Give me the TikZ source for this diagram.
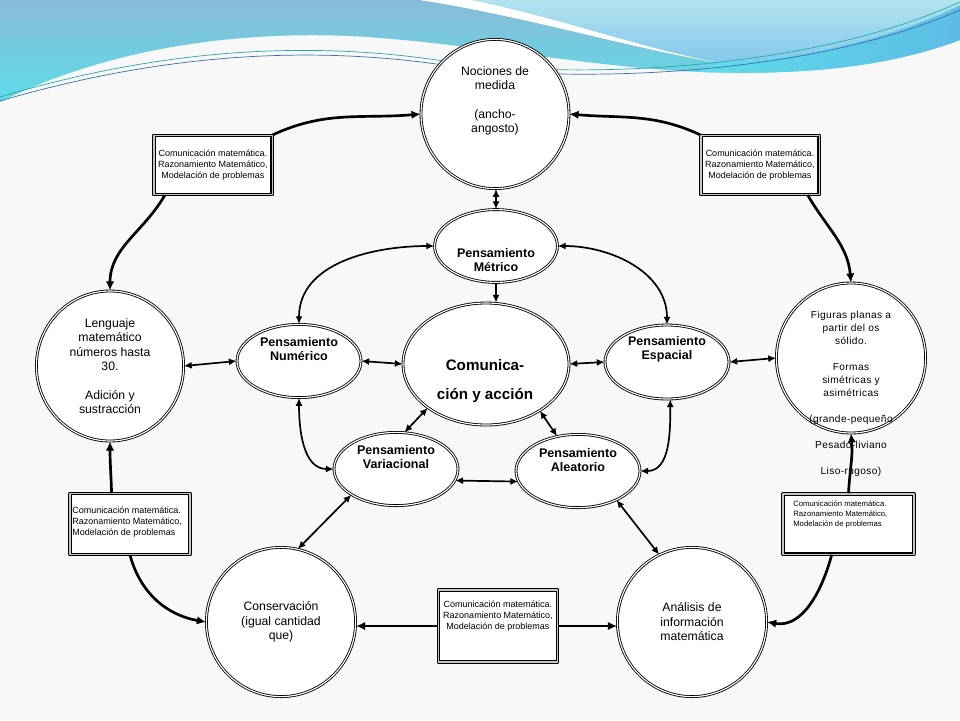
\documentclass[tikz,border=0pt]{standalone}
\usepackage{fontspec}
\setmainfont{Liberation Sans}
\newfontfamily\spacedfont[LetterSpace=4]{Liberation Sans}
\usetikzlibrary{shapes.geometric,arrows.meta}
\definecolor{paper}{HTML}{F8F8F8}
\definecolor{bandtop}{HTML}{88BCD6}
\definecolor{bandlow}{HTML}{5EDCE9}
\definecolor{bandblue}{HTML}{5DBCE6}
\definecolor{skylite}{HTML}{B2E3EE}
\definecolor{skyblue}{HTML}{84C8EC}
\definecolor{linteal}{HTML}{2AA8A4}
\definecolor{linblue}{HTML}{3A6FB0}
\begin{document}
\begin{tikzpicture}[x=0.25mm, y=-0.25mm, line join=round,
    ring/.style = {draw, ellipse, double, double distance=0.8pt, line width=0.6pt, fill=white, inner sep=0pt},
    frame/.style = {draw, rectangle, double=gray!45, double distance=1pt, line width=0.8pt, fill=white, inner sep=0pt},
    plain/.style = {align=center, inner sep=0pt, font=\fontsize{8.7pt}{10.3pt}\selectfont},
    heavy/.style = {align=center, inner sep=0pt, font=\bfseries\fontsize{8.9pt}{10pt}\selectfont},
    note/.style = {align=center, inner sep=0pt, font=\fontsize{6.4pt}{7.8pt}\selectfont},
    link/.style = {line width=1.9pt, -{Latex[length=6.5pt, width=6pt]}},
    pair/.style = {line width=1.2pt, {Latex[length=5.5pt, width=5pt]}-{Latex[length=5.5pt, width=5pt]}}]

% background and top swoosh
\fill[paper] (0,0) rectangle (960,720);
\useasboundingbox (0,0) rectangle (960,720);
\shade[top color=bandtop, bottom color=bandlow] (0,0) -- (420,0) .. controls (520,15) and (630,48) .. (715,62) .. controls (800,62) and (900,35) .. (960,5) -- (960,40) .. controls (880,70) and (790,75) .. (700,72) .. controls (600,68) and (480,45) .. (367,37) .. controls (260,30) and (120,42) .. (0,102) -- cycle;
\shade[left color=bandlow, right color=bandblue] (715,62) .. controls (800,62) and (900,35) .. (960,5) -- (960,40) .. controls (880,70) and (790,75) .. (700,72) -- cycle;
\shade[top color=skylite, bottom color=skyblue] (470,0) -- (960,0) -- (960,5) .. controls (900,35) and (800,62) .. (715,62) .. controls (640,48) and (560,18) .. (470,0) -- cycle;
\fill[white] (420,0) -- (470,0) .. controls (560,18) and (640,48) .. (715,62) .. controls (630,48) and (520,15) .. (420,0) -- cycle;
\draw[linteal, line width=0.5pt] (0,97) .. controls (150,52) and (300,38) .. (450,62) .. controls (560,78) and (800,75) .. (960,2);
\draw[linblue, line width=0.5pt] (0,101) .. controls (150,57) and (300,43) .. (450,66) .. controls (560,82) and (800,80) .. (960,10);

% ovals and circles
\node[ring, minimum width=37mm, minimum height=37.3mm] (noc) at (495,114) {};
\node[plain] (noc-t) at (495,101) {Nociones de\\medida\\[10pt](ancho-\\angosto)};
\node[ring, minimum width=30.7mm, minimum height=18.2mm] (met) at (496,246) {};
\node[heavy] (met-t) at (496,260) {Pensamiento\\Métrico};
\node[ring, minimum width=41.5mm, minimum height=30.5mm] (com) at (486,364) {};
\node[heavy, font=\bfseries\fontsize{10.8pt}{13pt}\selectfont] (com-t) at (485,381) {Comunica-\\[8pt]ción y acción};
\node[ring, minimum width=31mm, minimum height=18.3mm] (num) at (299,361) {};
\node[heavy] (num-t) at (299,349) {Pensamiento\\Numérico};
\node[ring, minimum width=31mm, minimum height=18.5mm] (esp) at (667,362) {};
\node[heavy] (esp-t) at (667,349) {Pensamiento\\Espacial};
\node[ring, minimum width=31mm, minimum height=18.3mm] (var) at (396,469) {};
\node[heavy] (var-t) at (396,457) {Pensamiento\\Variacional};
\node[ring, minimum width=31mm, minimum height=18.3mm] (ale) at (578,471) {};
\node[heavy] (ale-t) at (578,460) {Pensamiento\\Aleatorio};
\node[ring, plain, minimum width=36.8mm, minimum height=37.5mm] (len) at (110,366) {Lenguaje\\matemático\\números hasta\\30.\\[10pt]Adición y\\sustracción};
\node[ring, minimum width=37.3mm, minimum height=37.5mm] (fig) at (851,358) {};
\node[plain, font=\spacedfont\fontsize{7.2pt}{9.25pt}\selectfont] (fig-t) at (851,394) {Figuras planas a\\partir del os\\sólido.\\[9.25pt]Formas\\simétricas y\\asimétricas\\[9.25pt](grande-pequeño\\[9.25pt]Pesado-liviano\\[9.25pt]Liso-rugoso)};
\node[ring, plain, minimum width=37.3mm, minimum height=37.3mm] (con) at (281,622) {Conservación\\(igual cantidad\\que)};
\node[ring, plain, minimum width=37.3mm, minimum height=37.3mm] (ana) at (692,622) {Análisis de\\información\\matemática};

% boxes
\node[frame, note, minimum width=29.6mm, minimum height=14.8mm] (b1) at (213,165) {Comunicación matemática.\\Razonamiento Matemático,\\Modelación de problemas};
\node[frame, note, minimum width=29.6mm, minimum height=14.8mm] (b2) at (760,165) {Comunicación matemática.\\Razonamiento Matemático,\\Modelación de problemas};
\node[frame, minimum width=30mm, minimum height=15.2mm] (b3) at (130,524) {};
\node[note, align=left, anchor=west] (b3-t) at (72,522.5) {Comunicación matemática.\\Razonamiento Matemático,\\Modelación de problemas};
\node[frame, minimum width=32.7mm, minimum height=15.1mm] (b4) at (848.5,524) {};
\node[note, align=left, anchor=west, font=\fontsize{5.5pt}{7.1pt}\selectfont] (b4-t) at (793,514) {Comunicación matemática.\\Razonamiento Matemático,\\Modelación de problemas};
\node[frame, minimum width=29.8mm, minimum height=18mm] (b5) at (498,626) {};
\node[note] (b5-t) at (498,616) {Comunicación matemática.\\Razonamiento Matemático,\\Modelación de problemas};

% outer arrows
\draw[link] (b1.north east) to[out=25, in=185] (noc.west);
\draw[link] ([xshift=2.9mm]b1.south west) to[out=240, in=90] (len.north);
\draw[link] (b2.north west) to[out=155, in=-5] (noc.east);
\draw[link] ([xshift=-3mm]b2.south east) to[out=-60, in=95] (fig.north);
\draw[link] ([xshift=-4.6mm]b3.north) to[out=92, in=-90] (len.south);
\draw[link] (b3.south) to[out=-75, in=170] (con.west);
\draw[link] (b5.west) -- (b5.west -| con.east);
\draw[link] (b5.east) -- (b5.east -| ana.west);
\draw[link] (b4.north) to[out=87, in=-85] (fig.south);
\draw[link] ([xshift=-4.2mm]b4.south) to[out=-105, in=-10] (ana.east);

% inner arrows
\draw[pair] (noc.south -| met.north) -- (met.north);
\draw[line width=1.2pt, -{Latex[length=5.5pt, width=5pt]}] (met.south) -- (met.south |- com.north);
\draw[pair] (met.west) to[out=180, in=90] (num.north);
\draw[pair] (met.east) to[out=0, in=90] (esp.north);
\draw[pair] (len.east) -- (num.west);
\draw[pair] (num.east) -- (com.west);
\draw[pair] (com.east) -- (esp.west);
\draw[pair] (esp.east) -- (fig.west);
\draw[pair] (com.217) -- (var.77);
\draw[pair] (com.-41) -- (ale.121);
\draw[pair] (num.south) to[out=-90, in=180] (var.west);
\draw[pair] (esp.-85) to[out=-90, in=0] (ale.east);
\draw[pair] (var.-11) -- (ale.190);
\draw[pair] (var.210) -- (con.77);
\draw[pair] (ale.-37) -- (ana.116);
\end{tikzpicture}
\end{document}
